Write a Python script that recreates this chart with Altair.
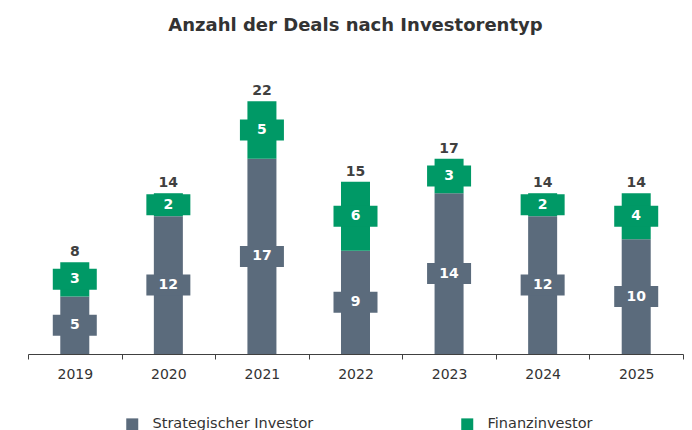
import altair as alt
import pandas as pd

years = ["2019", "2020", "2021", "2022", "2023", "2024", "2025"]
strategic = [5, 12, 17, 9, 14, 12, 10]
finance = [3, 2, 5, 6, 3, 2, 4]
types = ["Strategischer Investor", "Finanzinvestor"]
colors = ["#5b6b7c", "#009966"]

rows = []
for i, y in enumerate(years):
    rows.append({"year": y, "type": types[0], "value": strategic[i], "order": 0})
    rows.append({"year": y, "type": types[1], "value": finance[i], "order": 1})
df = pd.DataFrame(rows)

FONT = "DejaVu Sans"

base = alt.Chart(df).transform_stack(
    stack="value", groupby=["year"], as_=["y0", "y1"], sort=[alt.SortField("order")]
).transform_calculate(mid="(datum.y0 + datum.y1) / 2")

xenc = alt.X(
    "year:N",
    sort=years,
    title=None,
    scale=alt.Scale(paddingInner=0, paddingOuter=0),
    axis=alt.Axis(
        tickBand="extent",
        labelAngle=0,
        labelFont=FONT,
        labelFontSize=14,
        labelColor="#333333",
        labelPadding=8,
        domainColor="#404040",
        tickColor="#404040",
        tickSize=5,
        grid=False,
    ),
)
yscale = alt.Scale(domain=[0, 25.6], nice=False, zero=True)
cscale = alt.Scale(domain=types, range=colors)

bars = base.mark_bar(width={"band": 0.31}).encode(
    x=xenc,
    y=alt.Y("y0:Q", scale=yscale, axis=None),
    y2="y1:Q",
    color=alt.Color(
        "type:N",
        scale=cscale,
        sort=types,
        legend=alt.Legend(
            title=None,
            orient="none",
            direction="horizontal",
            legendX=97,
            legendY=357,
            symbolType="square",
            symbolSize=144,
            symbolStrokeWidth=0,
            symbolOpacity=1,
            labelFont=FONT,
            labelFontSize=14.5,
            labelColor="#333333",
            labelOffset=13,
            labelLimit=400,
            columnPadding=146,
        ),
    ),
)

boxes = base.mark_point(
    shape="M-1,-0.477L1,-0.477L1,0.477L-1,0.477Z",
    size=1936,
    filled=True,
    opacity=1,
    strokeWidth=0,
).encode(
    x=xenc,
    y=alt.Y("mid:Q", scale=yscale),
    color=alt.Color("type:N", scale=cscale, legend=None),
)

labels = base.mark_text(
    font=FONT, fontSize=14, fontWeight="bold", color="white", baseline="middle"
).encode(
    x=xenc,
    y=alt.Y("mid:Q", scale=yscale),
    text="value:Q",
)

totals = alt.Chart(df).transform_aggregate(
    total="sum(value)", groupby=["year"]
).mark_text(
    font=FONT, fontSize=14, fontWeight="bold", color="#404040", baseline="bottom", dy=-3
).encode(
    x=xenc,
    y=alt.Y("total:Q", scale=yscale),
    text="total:Q",
)

chart = alt.layer(bars, boxes, labels, totals).properties(
    width=655,
    height=294,
    title=alt.TitleParams(
        "Anzahl der Deals nach Investorentyp",
        font=FONT,
        fontSize=18,
        fontWeight="bold",
        color="#333333",
        anchor="middle",
        offset=25,
    ),
    autosize=alt.AutoSizeParams(type="none"),
    padding={"left": 20, "top": 52, "right": 1, "bottom": 80},
).configure_view(stroke=None)

chart.save("out.html", embed_options={"renderer": "svg", "actions": False})
